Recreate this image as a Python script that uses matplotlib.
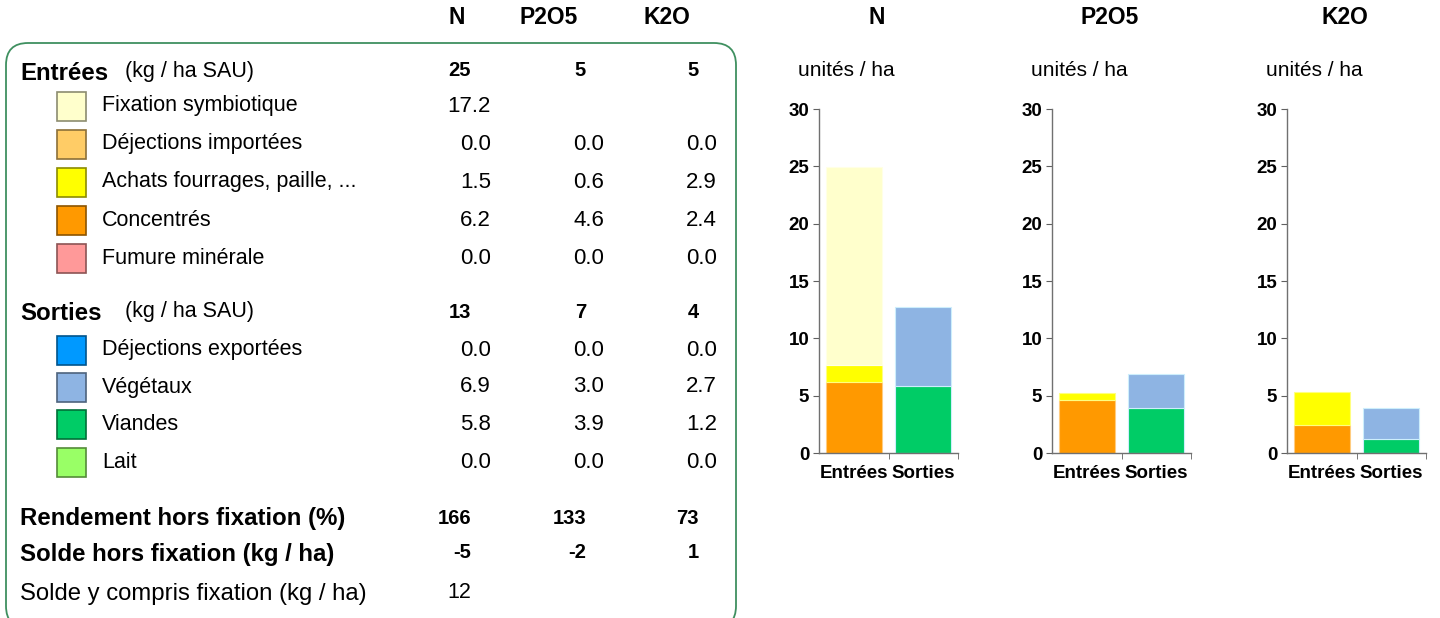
import matplotlib
matplotlib.use("Agg")
import matplotlib.pyplot as plt
import matplotlib.colors as mcolors
from matplotlib.patches import FancyBboxPatch, Rectangle
from matplotlib.transforms import IdentityTransform
import numpy as np

plt.rcParams["font.family"] = ["Liberation Sans", "DejaVu Sans"]

# ── données ───────────────────────────────────────────────────────────────────
elements = ["N", "P2O5", "K2O"]

entrees_labels = ["Fixation symbiotique", "Déjections importées",
                  "Achats fourrages, paille, ...", "Concentrés", "Fumure minérale"]
entrees_colors = ["#FFFFCC", "#FFCC66", "#FFFF00", "#FF9900", "#FF9999"]
entrees_N = [17.2, 0.0, 1.5, 6.2, 0.0]
entrees_P = [None, 0.0, 0.6, 4.6, 0.0]
entrees_K = [None, 0.0, 2.9, 2.4, 0.0]

sorties_labels = ["Déjections exportées", "Végétaux", "Viandes", "Lait"]
sorties_colors = ["#0099FF", "#8EB4E3", "#00CC66", "#99FF66"]
sorties_N = [0.0, 6.9, 5.8, 0.0]
sorties_P = [0.0, 3.0, 3.9, 0.0]
sorties_K = [0.0, 2.7, 1.2, 0.0]

total_entrees = [25, 5, 5]
total_sorties = [13, 7, 4]
rendement = [166, 133, 73]
solde_hors = [-5, -2, 1]
solde_y_compris = [12]

# ordre d'empilement des barres (du bas vers le haut)
stack_entrees = [3, 2, 1, 4, 0]
stack_sorties = [2, 3, 0, 1]

# ── figure ────────────────────────────────────────────────────────────────────
fig = plt.figure(figsize=(14.4, 6.18), dpi=100)
bg = fig.add_axes([0, 0, 1, 1])
bg.set_xlim(0, 1440)
bg.set_ylim(618, 0)
bg.axis("off")

FS = 15.5        # libellés
FS_VAL = 16      # valeurs
FS_TOT = 14.5    # totaux en gras
FS_HEAD = 16.5   # en-têtes N / P2O5 / K2O
FS_BOLD = 17.3   # libellés en gras
col_val = [491, 604, 717]    # bord droit des valeurs
col_tot = [471, 586, 699]    # bord droit des totaux (gras)
col_head = [457, 549, 667]

# cadre arrondi (coordonnées pixels, origine en bas)
box = FancyBboxPatch((6, -10), 730, 585, boxstyle="round,pad=0,rounding_size=22",
                     facecolor="none", edgecolor="#3f9060", linewidth=1.3,
                     transform=IdentityTransform())
fig.add_artist(box)

for x, t in zip(col_head, elements):
    bg.text(x, 18, t, ha="center", va="center", fontsize=FS_HEAD, fontweight="bold")

def darker(c, f=0.55):
    r, g, b = mcolors.to_rgb(c)
    return (r * f, g * f, b * f)

def section(y0, title, totals, labels, colors, cols, rows_y):
    bg.text(20, y0 + 2, title, ha="left", va="center", fontsize=FS_BOLD, fontweight="bold")
    bg.text(125, y0, "(kg / ha SAU)", ha="left", va="center", fontsize=FS)
    for x, v in zip(col_tot, totals):
        bg.text(x, y0, f"{v}", ha="right", va="center", fontsize=FS_TOT, fontweight="bold")
    for i, (lab, col, y) in enumerate(zip(labels, colors, rows_y)):
        bg.add_patch(Rectangle((57, y - 14.5), 29, 29, facecolor=col,
                               edgecolor=darker(col), linewidth=1.2))
        bg.text(102, y, lab, ha="left", va="center", fontsize=FS)
        for x, vals in zip(col_val, cols):
            v = vals[i]
            if v is not None:
                bg.text(x, y, f"{v:.1f}", ha="right", va="center", fontsize=FS_VAL)

section(71, "Entrées", total_entrees, entrees_labels, entrees_colors,
        [entrees_N, entrees_P, entrees_K], [106, 144, 182, 220, 258])
section(312, "Sorties", total_sorties, sorties_labels, sorties_colors,
        [sorties_N, sorties_P, sorties_K], [350, 387, 424, 462])

bg.text(20, 518, "Rendement hors fixation (%)", ha="left", va="center",
        fontsize=FS_BOLD, fontweight="bold")
for x, v in zip(col_tot, rendement):
    bg.text(x, 518, f"{v}", ha="right", va="center", fontsize=FS_TOT, fontweight="bold")
bg.text(20, 554, "Solde hors fixation (kg / ha)", ha="left", va="center",
        fontsize=FS_BOLD, fontweight="bold")
for x, v in zip(col_tot, solde_hors):
    bg.text(x, 553, f"{v}", ha="right", va="center", fontsize=FS_TOT, fontweight="bold")
bg.text(20, 594, "Solde y compris fixation (kg / ha)", ha="left", va="center", fontsize=17.2)
for x, v in zip(col_tot, solde_y_compris):
    bg.text(x, 593, f"{v}", ha="right", va="center", fontsize=FS)

# ── graphiques empilés ────────────────────────────────────────────────────────
lefts = [819, 1052, 1287]
ent_all = [entrees_N, entrees_P, entrees_K]
sor_all = [sorties_N, sorties_P, sorties_K]

def lighter(c, f=0.5):
    r, g, b = mcolors.to_rgb(c)
    return (r + (1 - r) * f, g + (1 - g) * f, b + (1 - b) * f)

for k, left in enumerate(lefts):
    ax = fig.add_axes([left / 1440, 1 - 453 / 618, 139 / 1440, 344 / 618])
    bottom = 0.0
    for i in stack_entrees:
        v = ent_all[k][i] or 0.0
        if v > 0:
            ax.bar(0.5, v, width=0.8, bottom=bottom, color=entrees_colors[i],
                   edgecolor=lighter(entrees_colors[i]), linewidth=0.8)
        bottom += v
    bottom = 0.0
    for i in stack_sorties:
        v = sor_all[k][i]
        if v > 0:
            ax.bar(1.5, v, width=0.8, bottom=bottom, color=sorties_colors[i],
                   edgecolor="#cdeefc", linewidth=0.8)
        bottom += v
    ax.set_xlim(0, 2)
    ax.set_ylim(0, 30)
    ax.set_yticks(np.arange(0, 31, 5))
    ax.set_xticks([0.5, 1.5])
    ax.set_xticklabels(["Entrées", "Sorties"])
    ax.set_xticks([1, 2], minor=True)
    ax.tick_params(axis="x", which="major", length=0, pad=9, labelsize=13.5)
    ax.tick_params(axis="x", which="minor", length=4, color="#606060", direction="out")
    ax.tick_params(axis="y", length=4, color="#606060", labelsize=13.5, pad=3)
    for lab in ax.get_xticklabels() + ax.get_yticklabels():
        lab.set_fontweight("bold")
    for s in ["top", "right"]:
        ax.spines[s].set_visible(False)
    for s in ["left", "bottom"]:
        ax.spines[s].set_color("#707070")
        ax.spines[s].set_linewidth(1.0)

    bg.text(left + 58, 18, elements[k], ha="center", va="center",
            fontsize=FS_HEAD, fontweight="bold")
    bg.text(left - 21, 70, "unités / ha", ha="left", va="center", fontsize=15)

fig.savefig("out.png", dpi=100)
